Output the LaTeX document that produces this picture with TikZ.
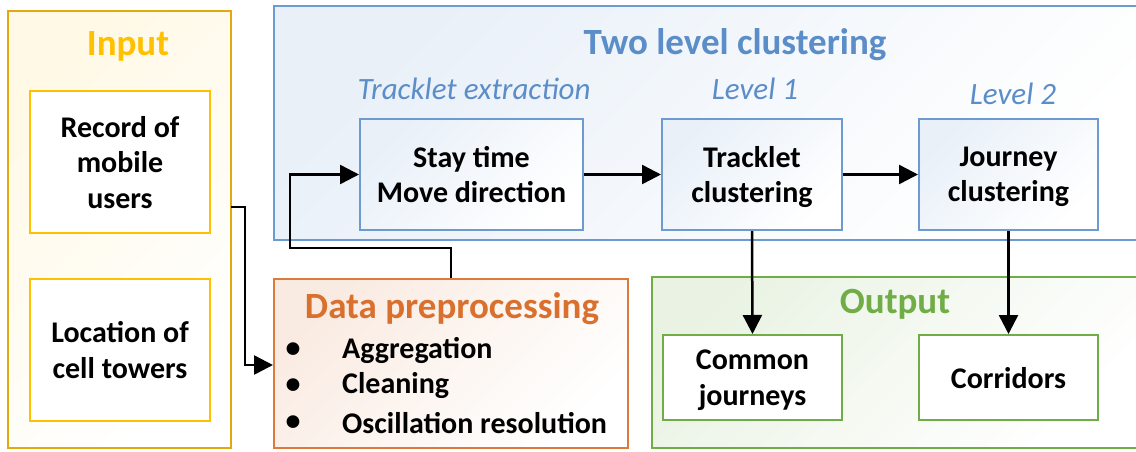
\documentclass[tikz,border=0pt]{standalone}
\usepackage{fontspec}
\setmainfont{Carlito}
\usetikzlibrary{arrows.meta}
\definecolor{gold}{HTML}{FFC000}
\definecolor{golddark}{HTML}{E2A90C}
\definecolor{bluetext}{HTML}{5B8DC8}
\definecolor{blueline}{HTML}{6C9BD2}
\definecolor{orngtext}{HTML}{D9702E}
\definecolor{orngline}{HTML}{DC7A3C}
\definecolor{grn}{HTML}{70AD47}
\tikzset{
  frame/.style={draw, line width=2pt, rectangle, inner sep=0pt},
  inbox/.style={frame, font=\bfseries\fontsize{30}{35.5}\selectfont, align=center, text=black, text depth=0pt},
  title/.style={font=\bfseries\fontsize{37}{42}\selectfont},
  sub/.style={font=\itshape\fontsize{31}{34}\selectfont, text=bluetext},
  item/.style={font=\bfseries\fontsize{30}{34}\selectfont, inner sep=0pt},
  conn/.style={line width=2.5pt, -{Triangle[length=19pt,width=19pt]}},
}
\begin{document}
\begin{tikzpicture}[x=1pt,y=-1pt]
\useasboundingbox[fill=white] (0,0) rectangle (1136,451);
% Input group
\node[frame, draw=golddark, minimum width=223pt, minimum height=437pt,
      top color=gold!10, bottom color=white, shading angle=45] (input) at (119.5,229.5) {};
\node[title, text=gold] (inputt) at (128,46) {Input};
\node[inbox, draw=gold, fill=white, minimum width=180pt, minimum height=142pt] (rec) at (120,162) {Record of\\mobile\\users};
\node[inbox, draw=gold, fill=white, minimum width=180pt, minimum height=142pt] (loc) at (120,350) {Location of\\cell towers};
% Two level clustering
\node[frame, draw=blueline, minimum width=866pt, minimum height=234pt,
      top color=blueline!15, bottom color=white, shading angle=45] (two) at (707,123) {};
\node[title, text=bluetext] (twot) at (735,45) {Two level clustering};
\node[sub] (s1) at (474,89) {Tracklet extraction};
\node[sub] (s2) at (755,89) {Level 1};
\node[sub] (s3) at (1013,94) {Level 2};
\node[inbox, draw=blueline, top color=blueline!15, bottom color=white, shading angle=45,
      minimum width=223pt, minimum height=111pt] (stay) at (471.5,174.5) {Stay time\\Move direction};
\node[inbox, draw=blueline, top color=blueline!15, bottom color=white, shading angle=45,
      minimum width=180pt, minimum height=111pt] (trk) at (752,174.5) {Tracklet\\clustering};
\node[inbox, draw=blueline, top color=blueline!15, bottom color=white, shading angle=45,
      minimum width=179pt, minimum height=111pt] (jour) at (1008.5,174.5) {Journey\\clustering};
% Data preprocessing
\node[frame, draw=orngline, minimum width=354pt, minimum height=169pt,
      top color=orngline!15, bottom color=white, shading angle=45] (prep) at (451,363.5) {};
\node[title, text=orngtext] (prept) at (452,309) {Data preprocessing};
\node[item] (b1) at (293,350) {•};
\node[item] (b2) at (293,386) {•};
\node[item] (b3) at (293,423) {•};
\node[item, anchor=west] (i1) at (342,350) {Aggregation};
\node[item, anchor=west] (i2) at (342,386) {Cleaning};
\node[item, anchor=west] (i3) at (342,423) {Oscillation resolution};
% Output
\node[frame, draw=grn, minimum width=488pt, minimum height=171pt,
      top color=grn!15, bottom color=white, shading angle=45] (out) at (896,362.5) {};
\node[title, text=grn] (outt) at (895,304) {Output};
\node[inbox, draw=grn, fill=white, minimum width=179pt, minimum height=85pt] (com) at (752.5,377.5) {Common\\journeys};
\node[inbox, draw=grn, fill=white, minimum width=179pt, minimum height=85pt] (cor) at (1008.5,377.5) {Corridors};
% connectors
\coordinate (a1) at (231,207);
\coordinate (a2) at (245,365);
\coordinate (a3) at (290,248);
\draw[conn] (a1) -| (a2) -- (prep.west |- a2);
\draw[conn] (prep.north) |- (a3) |- (stay.west);
\draw[conn] (stay.east) -- (trk.west);
\draw[conn] (trk.east) -- (jour.west);
\draw[conn] (trk.south) -- (com.north);
\draw[conn] (jour.south) -- (cor.north);
\end{tikzpicture}
\end{document}
